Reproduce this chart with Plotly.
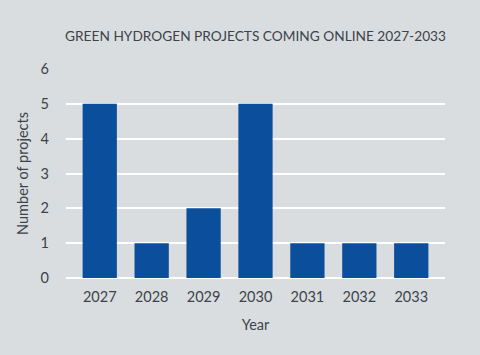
import plotly.graph_objects as go

years = ["2027", "2028", "2029", "2030", "2031", "2032", "2033"]
projects = [5, 1, 2, 5, 1, 1, 1]
y_ticks = [0, 1, 2, 3, 4, 5, 6]

BG = "#d9dde0"
BAR = "#0b4f9c"
TXT = "#3d434a"

fig = go.Figure(go.Bar(x=years, y=projects, marker=dict(color=BAR, line=dict(width=0)),
                       width=0.66))
fig.update_layout(
    width=480, height=355,
    paper_bgcolor=BG, plot_bgcolor=BG,
    margin=dict(l=66, r=35, t=69, b=77),
    font=dict(family="Lato", color=TXT, size=14),
    title=dict(text="GREEN HYDROGEN PROJECTS COMING ONLINE 2027-2033",
               x=0.5, xref="paper", xanchor="center", y=(355 - 36.5) / 355, yref="container",
               yanchor="middle",
               font=dict(family="Lato", size=13.7, color=TXT)),
    showlegend=False,
)
fig.update_xaxes(type="category", range=[-0.65, 6.65], showgrid=False, showline=False,
                 ticks="", ticklabelstandoff=8, tickfont=dict(size=14.5),
                 title=dict(text="Year", font=dict(size=14.5), standoff=16))
fig.update_yaxes(range=[0, 6], tickvals=y_ticks, showgrid=True, gridcolor="white", gridwidth=2,
                 zeroline=True, zerolinecolor="white", zerolinewidth=2, showline=False,
                 ticks="", ticklabelstandoff=16, tickfont=dict(size=14.5),
                 title=dict(text="Number of projects", font=dict(size=14.5), standoff=8))
fig.write_html("out.html", config={"displayModeBar": False},
               post_script="document.body.style.margin='0';document.body.style.overflow='hidden';")
